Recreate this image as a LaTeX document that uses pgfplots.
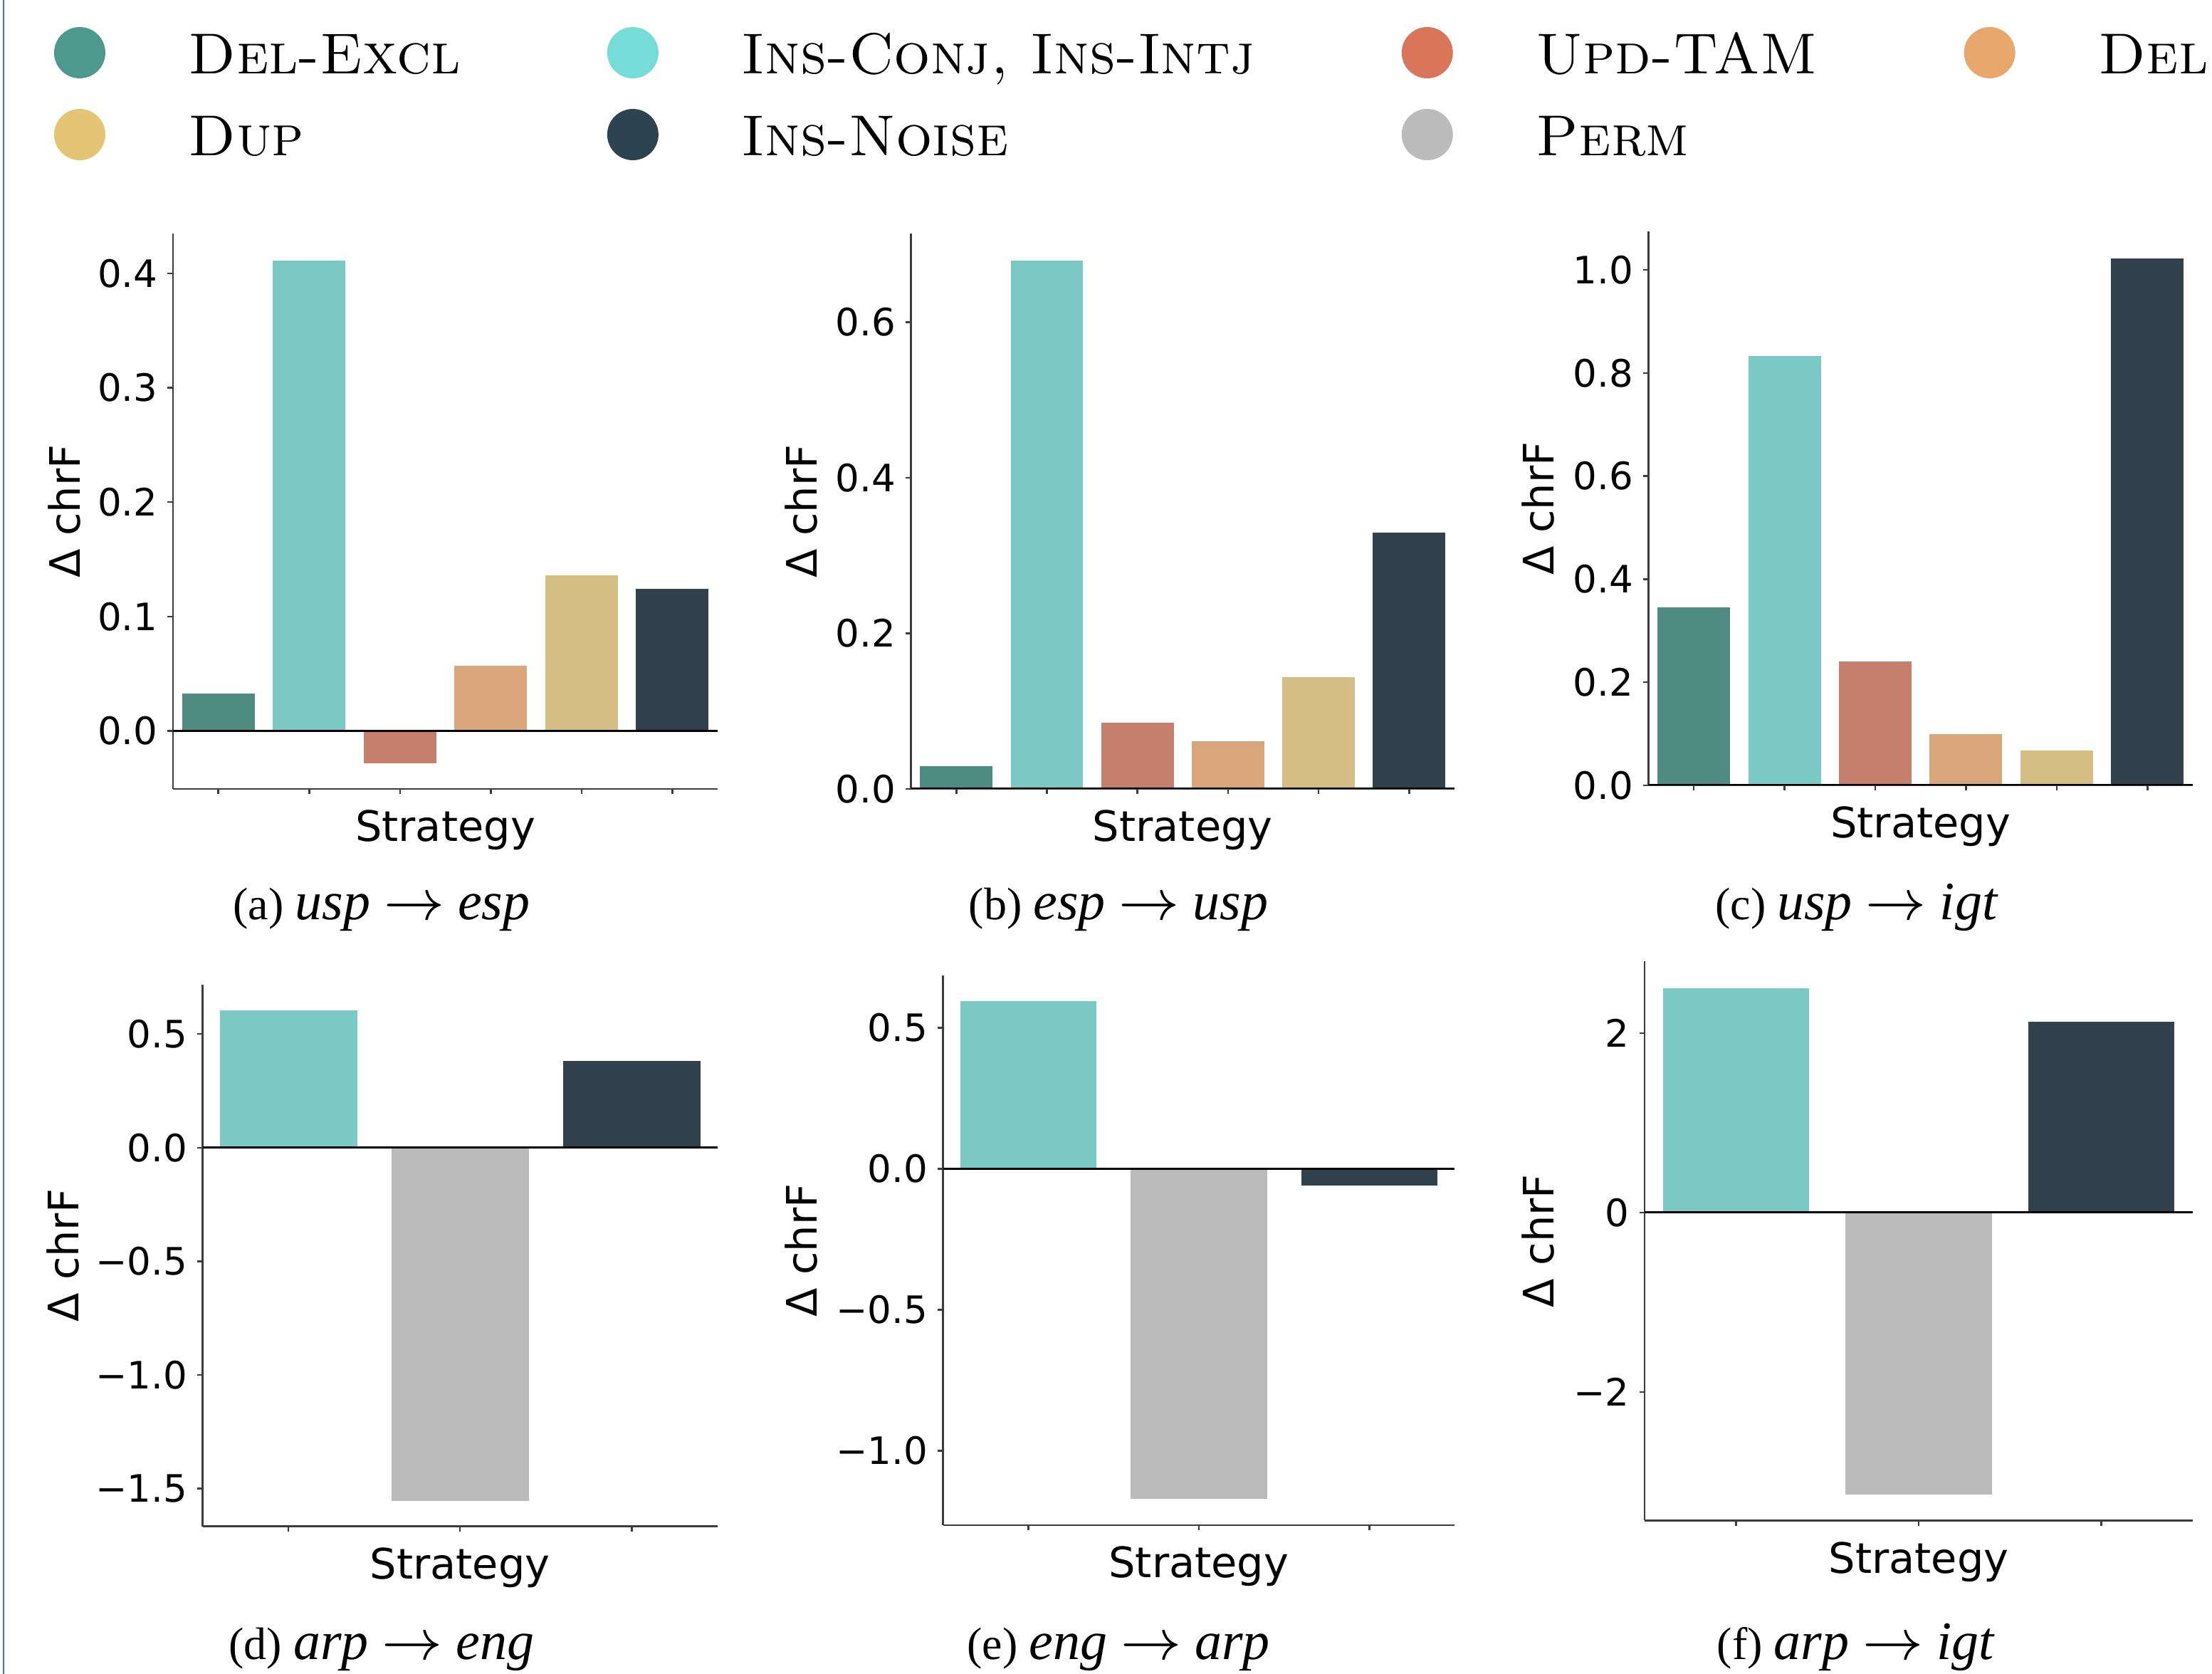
\documentclass[border=0pt]{standalone}
\usepackage{fontspec}
\usepackage{pgfplots}
\pgfplotsset{compat=1.18}
\newfontfamily\djv{DejaVu Sans}
\newfontfamily\tms{Liberation Serif}
\definecolor{barA}{RGB}{80,139,130}
\definecolor{barB}{RGB}{123,201,196}
\definecolor{barC}{RGB}{198,127,108}
\definecolor{barD}{RGB}{217,166,124}
\definecolor{barE}{RGB}{212,190,132}
\definecolor{barF}{RGB}{49,66,77}
\definecolor{barG}{RGB}{186,186,186}
\definecolor{legA}{RGB}{78,153,141}
\definecolor{legB}{RGB}{117,220,216}
\definecolor{legC}{RGB}{217,117,88}
\definecolor{legD}{RGB}{232,167,108}
\definecolor{legE}{RGB}{227,197,116}
\definecolor{legF}{RGB}{46,67,80}
\definecolor{legG}{RGB}{187,187,187}
\definecolor{axc}{RGB}{60,60,60}
\definecolor{edgeblue}{RGB}{68,114,196}
\pgfplotsset{
  panel/.style={
    scale only axis, anchor=south west,
    axis x line*=bottom, axis y line*=left,
    axis line style={draw=axc, line width=0.25pt},
    tick style={draw=axc, line width=0.25pt},
    major tick length=0.75pt, tick align=outside,
    ticklabel style={font=\djv\fontsize{5.3}{6}\selectfont},
    yticklabel style={anchor=east, inner sep=0pt, xshift=-1.2pt},
    xlabel={Strategy}, ylabel={Δ chrF},
    label style={font=\djv\fontsize{5.9}{7}\selectfont},
    xlabel style={at={(axis description cs:0.5,0)}, anchor=north, inner sep=0pt, yshift=-2.8pt},
    ylabel style={inner sep=0pt, anchor=south},
  },
  six/.style={xmin=-0.5, xmax=5.5, xtick={0,1,2,3,4,5}, xticklabels={,,,,,}},
  three/.style={xmin=-0.5, xmax=2.5, xtick={0,1,2}, xticklabels={,,}},
  bar/.style={ybar, bar width=0.8, bar shift=0pt, draw=none, forget plot},
  zero/.style={black, line width=0.3pt, forget plot},
}
\newcommand{\capt}[3]{{\tms\fontsize{6.4}{8}\selectfont(#1) \fontsize{7.6}{8}\selectfont\textit{#2} $\rightarrow$ \textit{#3}}}
\begin{document}
\begin{tikzpicture}
% (a) usp -> esp
\begin{axis}[panel, six, at={(24.3pt,124.3pt)}, width=76.5pt, height=78pt,
  ymin=-0.0506, ymax=0.4347,
  ytick={0,0.1,0.2,0.3,0.4}, yticklabels={0.0,0.1,0.2,0.3,0.4},
  ylabel style={at={(axis description cs:-0.1673,0.5)}},
  legend columns=4,
  legend image code/.code={\path[fill=none,draw=none] (-24.2pt,-4pt) rectangle (15.3pt,7.5pt); \fill[#1] (0pt,2.9pt) circle[radius=3.6pt];},
  legend style={at={(axis description cs:-0.4876,1.3846)}, anchor=north west, draw=none, fill=none,
    inner sep=0pt, outer sep=0pt, column sep=0pt, row sep=0pt,
    font=\fontsize{8.1}{9}\selectfont, cells={anchor=base west}, nodes={inner sep=0pt, outer sep=0pt}},
]
\addplot[bar, fill=barA] coordinates {(0,0.033)};
\addplot[bar, fill=barB] coordinates {(1,0.411)};
\addplot[bar, fill=barC] coordinates {(2,-0.028)};
\addplot[bar, fill=barD] coordinates {(3,0.057)};
\addplot[bar, fill=barE] coordinates {(4,0.136)};
\addplot[bar, fill=barF] coordinates {(5,0.124)};
\addplot[zero] coordinates {(-0.5,0) (5.5,0)};
\addlegendimage{fill=legA, draw=none}\addlegendentry{\textsc{Del-Excl}}
\addlegendimage{fill=legB, draw=none}\addlegendentry{\textsc{Ins-Conj, Ins-Intj}}
\addlegendimage{fill=legC, draw=none}\addlegendentry{\textsc{Upd-TAM}}
\addlegendimage{fill=legD, draw=none}\addlegendentry{\textsc{Del}}
\addlegendimage{fill=legE, draw=none}\addlegendentry{\textsc{Dup}}
\addlegendimage{fill=legF, draw=none}\addlegendentry{\textsc{Ins-Noise}}
\addlegendimage{fill=legG, draw=none}\addlegendentry{\textsc{Perm}}
\end{axis}
% (b) esp -> usp
\begin{axis}[panel, six, at={(127.97pt,124.3pt)}, width=76.33pt, height=77.99pt,
  ymin=0, ymax=0.714,
  ytick={0,0.2,0.4,0.6}, yticklabels={0.0,0.2,0.4,0.6},
  ylabel style={at={(axis description cs:-0.1694,0.5)}},
]
\addplot[bar, fill=barA] coordinates {(0,0.029)};
\addplot[bar, fill=barB] coordinates {(1,0.679)};
\addplot[bar, fill=barC] coordinates {(2,0.085)};
\addplot[bar, fill=barD] coordinates {(3,0.061)};
\addplot[bar, fill=barE] coordinates {(4,0.144)};
\addplot[bar, fill=barF] coordinates {(5,0.330)};
\addplot[zero] coordinates {(-0.5,0) (5.5,0)};
\end{axis}
% (c) usp -> igt
\begin{axis}[panel, six, at={(231.54pt,124.8pt)}, width=76.46pt, height=77.76pt,
  ymin=0, ymax=1.074,
  ytick={0,0.2,0.4,0.6,0.8,1.0}, yticklabels={0.0,0.2,0.4,0.6,0.8,1.0},
  ylabel style={at={(axis description cs:-0.1696,0.5)}},
]
\addplot[bar, fill=barA] coordinates {(0,0.345)};
\addplot[bar, fill=barB] coordinates {(1,0.833)};
\addplot[bar, fill=barC] coordinates {(2,0.240)};
\addplot[bar, fill=barD] coordinates {(3,0.100)};
\addplot[bar, fill=barE] coordinates {(4,0.068)};
\addplot[bar, fill=barF] coordinates {(5,1.022)};
\addplot[zero] coordinates {(-0.5,0) (5.5,0)};
\end{axis}
% (d) arp -> eng
\begin{axis}[panel, three, at={(28.46pt,20.73pt)}, width=72.32pt, height=76.05pt,
  ymin=-1.666, ymax=0.716,
  ytick={-1.5,-1.0,-0.5,0,0.5}, yticklabels={−1.5,−1.0,−0.5,0.0,0.5},
  ylabel style={at={(axis description cs:-0.2362,0.5)}},
]
\addplot[bar, fill=barB] coordinates {(0,0.604)};
\addplot[bar, fill=barG] coordinates {(1,-1.554)};
\addplot[bar, fill=barF] coordinates {(2,0.380)};
\addplot[zero] coordinates {(-0.5,0) (2.5,0)};
\end{axis}
% (e) eng -> arp
\begin{axis}[panel, three, at={(132.46pt,20.92pt)}, width=71.84pt, height=77.14pt,
  ymin=-1.263, ymax=0.685,
  ytick={-1.0,-0.5,0,0.5}, yticklabels={−1.0,−0.5,0.0,0.5},
  ylabel style={at={(axis description cs:-0.2425,0.5)}},
]
\addplot[bar, fill=barB] coordinates {(0,0.595)};
\addplot[bar, fill=barG] coordinates {(1,-1.171)};
\addplot[bar, fill=barF] coordinates {(2,-0.058)};
\addplot[zero] coordinates {(-0.5,0) (2.5,0)};
\end{axis}
% (f) arp -> igt
\begin{axis}[panel, three, at={(231.0pt,21.56pt)}, width=77.0pt, height=78.54pt,
  ymin=-3.43, ymax=2.80,
  ytick={-2,0,2}, yticklabels={−2,0,2},
  ylabel style={at={(axis description cs:-0.1614,0.5)}},
]
\addplot[bar, fill=barB] coordinates {(0,2.50)};
\addplot[bar, fill=barG] coordinates {(1,-3.139)};
\addplot[bar, fill=barF] coordinates {(2,2.127)};
\addplot[zero] coordinates {(-0.5,0) (2.5,0)};
\end{axis}
% captions
\node[anchor=base, inner sep=0pt] at (53.6pt,105.9pt) {\capt{a}{usp}{esp}};
\node[anchor=base, inner sep=0pt] at (157.1pt,105.9pt) {\capt{b}{esp}{usp}};
\node[anchor=base, inner sep=0pt] at (260.8pt,105.9pt) {\capt{c}{usp}{igt}};
\node[anchor=base, inner sep=0pt] at (53.6pt,2.0pt) {\capt{d}{arp}{eng}};
\node[anchor=base, inner sep=0pt] at (157.1pt,2.0pt) {\capt{e}{eng}{arp}};
\node[anchor=base, inner sep=0pt] at (260.7pt,2.0pt) {\capt{f}{arp}{igt}};
\fill[edgeblue] (0.35pt,0pt) rectangle (0.65pt,235.1pt);
\pgfresetboundingbox
\useasboundingbox (0pt,0pt) rectangle (310.7pt,235.1pt);
\end{tikzpicture}
\end{document}
